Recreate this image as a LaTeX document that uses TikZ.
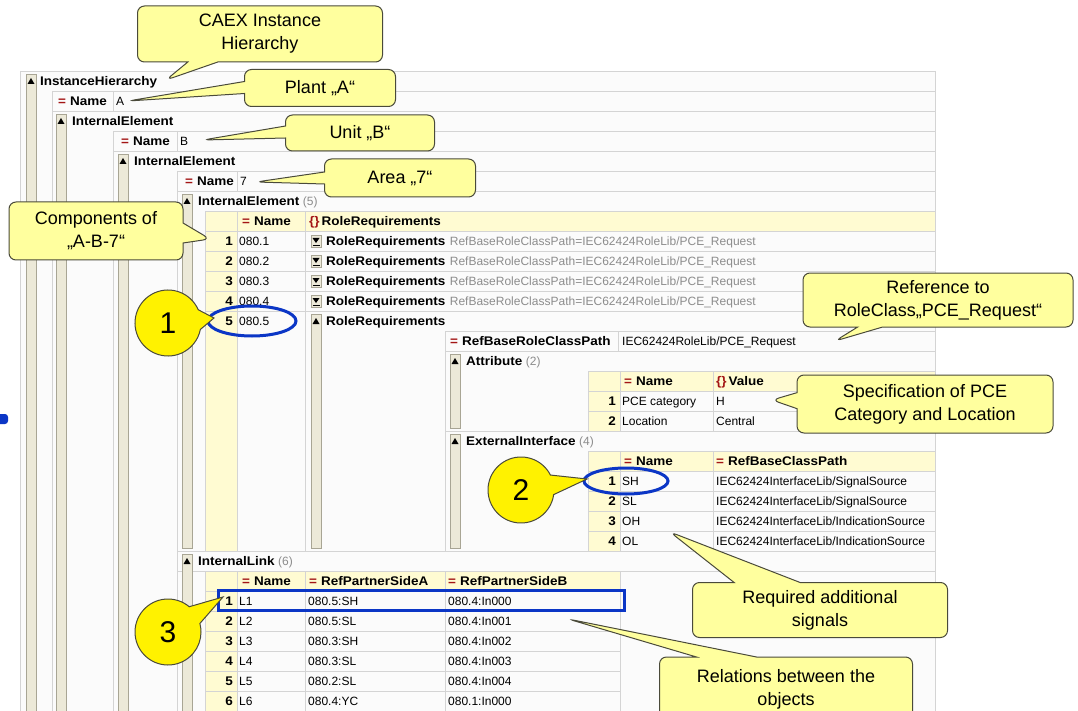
\documentclass[tikz,border=0pt]{standalone}
\usepackage{fontspec}
\setmainfont{Liberation Sans}
\newfontfamily\tblbold[FakeStretch=1.08]{Liberation Sans Bold}
\usepackage{tikz}
\usetikzlibrary{shapes.callouts,positioning}
\definecolor{notefill}{HTML}{FFFF9E}
\definecolor{noteline}{HTML}{4A4A3A}
\definecolor{cellyellow}{HTML}{FFFBD2}
\definecolor{gridgray}{HTML}{D4D4D4}
\definecolor{panefill}{HTML}{FBFBFB}
\definecolor{barfill}{HTML}{ECE9D8}
\definecolor{bargray}{HTML}{A8A594}
\definecolor{iconred}{HTML}{A31515}
\definecolor{hiblue}{HTML}{0B36C6}
\definecolor{dimtext}{HTML}{8C8C8C}
\newcommand{\eqicon}{\textcolor{iconred}{\tblbold =}\hspace{4pt}}
\newcommand{\braceicon}{\textcolor{iconred}{\tblbold\{\}}\hspace{2pt}}
% fold bar: x left, top, bottom
\newcommand{\foldbar}[3]{%
  \filldraw[fill=barfill, draw=bargray, line width=0.8pt] (#1,#2) rectangle (#1+10,#3);
  \fill (#1+1.5,#2+10) -- (#1+8.5,#2+10) -- (#1+5,#2+4) -- cycle;}
% collapsed button: row centre
\newcommand{\foldbtn}[1]{%
  \filldraw[fill=barfill, draw=bargray, line width=0.6pt] (311,#1-6) rectangle (321,#1+6);
  \fill (312.5,#1-3) -- (319.5,#1-3) -- (316,#1+2) -- cycle;
  \draw[line width=0.8pt] (312.5,#1+4) -- (319.5,#1+4);}

\begin{document}
\begin{tikzpicture}[x=1pt, y=-1pt,
    txt/.style={anchor=base west, inner sep=0pt, font=\fontsize{12}{14}\selectfont},
    key/.style={anchor=base west, inner sep=0pt, font=\fontsize{12.5}{14}\tblbold},
    idx/.style={anchor=base east, inner sep=0pt, font=\fontsize{12.5}{14}\tblbold},
    dim/.style={txt, text=dimtext},
    grid/.style={draw=gridgray, line width=0.8pt},
    hilite/.style={draw=hiblue, line width=3pt},
    note/.style={rectangle callout, draw=noteline, fill=notefill, line width=1pt,
      rounded corners=7pt, align=center, inner sep=2pt,
      font=\fontsize{18}{23}\selectfont},
    num/.style={ellipse callout, draw=noteline, fill=yellow, line width=1pt,
      minimum width=66pt, minimum height=66pt, inner sep=0pt,
      callout pointer arc=35, font=\fontsize{30}{32}\selectfont}]
  \useasboundingbox (0,0) rectangle (1078,711);
  \fill[white] (0,0) rectangle (1078,711);
  \fill[panefill] (20,71) rectangle (935,711);
  \fill[hiblue, rounded corners=3pt] (-4,414) rectangle (8,424);

  % yellow cells
  \fill[cellyellow] (205,211) rectangle (935,231);
  \fill[cellyellow] (205,231) rectangle (237,551);
  \fill[cellyellow] (588,371) rectangle (935,391);
  \fill[cellyellow] (588,391) rectangle (620,431);
  \fill[cellyellow] (588,451) rectangle (935,471);
  \fill[cellyellow] (588,471) rectangle (620,551);
  \fill[cellyellow] (205,571) rectangle (620,591);
  \fill[cellyellow] (205,591) rectangle (237,711);

  % grid
  \foreach \y/\xa in {71/20, 91/52, 111/52, 131/113, 151/113, 171/177, 191/177,
      211/205, 231/205, 251/205, 271/205, 291/205, 311/205, 331/445, 351/445,
      371/588, 391/588, 411/588, 431/445, 451/588, 471/588, 491/588, 511/588,
      531/588, 551/177, 571/177}
    \draw[grid] (\xa,\y) -- (935,\y);
  \foreach \y in {591,611,...,711}
    \draw[grid] (205,\y) -- (620,\y);
  \foreach \x/\ya/\yb in {20/71/711, 935/71/711, 52/91/711, 113/91/111, 113/131/711,
      177/131/151, 177/171/711, 237/171/191, 205/211/551, 237/211/551, 305/211/551,
      445/331/551, 618/331/351, 588/371/431, 620/371/431, 713/371/431,
      588/451/551, 620/451/551, 713/451/551, 205/571/711, 237/571/711,
      305/571/711, 445/571/711, 620/571/711}
    \draw[grid] (\x,\ya) -- (\x,\yb);

  % fold bars
  \foldbar{26}{74}{711}
  \foldbar{56}{114}{711}
  \foldbar{118}{154}{711}
  \foldbar{182}{194}{548}
  \foldbar{311}{314}{548}
  \foldbar{450}{354}{428}
  \foldbar{450}{434}{548}
  \foldbar{182}{554}{711}

  % hierarchy
  \node[key] (ih) at (40,85.5) {InstanceHierarchy};
  \node[key] (nameA) at (58,105.5) {\eqicon Name};
  \node[txt] (valA) at (116,105.5) {A};
  \node[key] (ieA) at (72,125.5) {InternalElement};
  \node[key] (nameB) at (121,145.5) {\eqicon Name};
  \node[txt] (valB) at (180,145.5) {B};
  \node[key] (ieB) at (134,165.5) {InternalElement};
  \node[key] (nameC) at (185,185.5) {\eqicon Name};
  \node[txt] (valC) at (240,185.5) {7};
  \node[key] (ieC) at (198,205.5) {InternalElement};
  \node[dim, right=3pt of ieC.base east, anchor=base west] (ieCount) {(5)};

  % components table
  \node[key] (compName) at (242,225.5) {\eqicon Name};
  \node[key] (compRole) at (309,225.5) {\braceicon RoleRequirements};
  \foreach \i in {1,...,4} {
    \node[idx] (compIdx\i) at (233,225.5+20*\i) {\i};
    \node[txt] (comp\i) at (239,225.5+20*\i) {080.\i};
    \foldbtn{221+20*\i}
    \node[key] (role\i) at (326,225.5+20*\i) {RoleRequirements};
    \node[dim, right=4pt of role\i.base east, anchor=base west] (path\i)
      {RefBaseRoleClassPath=IEC62424RoleLib/PCE\_Request};
  }
  \node[idx] (compIdx5) at (233,325.5) {5};
  \node[txt] (comp5) at (239,325.5) {080.5};
  \node[key] (role5) at (326,325.5) {RoleRequirements};
  \node[key] (refKey) at (450,345.5) {\eqicon RefBaseRoleClassPath};
  \node[txt] (refVal) at (622,345.5) {IEC62424RoleLib/PCE\_Request};

  % attributes
  \node[key] (attr) at (466,365.5) {Attribute};
  \node[dim, right=3pt of attr.base east, anchor=base west] (attrCount) {(2)};
  \node[key] (attrName) at (624,385.5) {\eqicon Name};
  \node[key] (attrValue) at (716,385.5) {\braceicon Value};
  \node[idx] (attrIdx1) at (616,405.5) {1};
  \node[txt] (attrN1) at (622,405.5) {PCE category};
  \node[txt] (attrV1) at (716,405.5) {H};
  \node[idx] (attrIdx2) at (616,425.5) {2};
  \node[txt] (attrN2) at (622,425.5) {Location};
  \node[txt] (attrV2) at (716,425.5) {Central};

  % external interfaces
  \node[key] (ext) at (466,445.5) {ExternalInterface};
  \node[dim, right=3pt of ext.base east, anchor=base west] (extCount) {(4)};
  \node[key] (extName) at (624,465.5) {\eqicon Name};
  \node[key] (extPath) at (716,465.5) {\eqicon RefBaseClassPath};
  \foreach \i/\nm/\pth in {1/SH/{IEC62424InterfaceLib/SignalSource},
      2/SL/{IEC62424InterfaceLib/SignalSource},
      3/OH/{IEC62424InterfaceLib/IndicationSource},
      4/OL/{IEC62424InterfaceLib/IndicationSource}} {
    \node[idx] (extIdx\i) at (616,465.5+20*\i) {\i};
    \node[txt] (extN\i) at (622,465.5+20*\i) {\nm};
    \node[txt] (extP\i) at (716,465.5+20*\i) {\pth};
  }

  % internal links
  \node[key] (link) at (198,565.5) {InternalLink};
  \node[dim, right=3pt of link.base east, anchor=base west] (linkCount) {(6)};
  \node[key] (linkName) at (242,585.5) {\eqicon Name};
  \node[key] (linkA) at (309,585.5) {\eqicon RefPartnerSideA};
  \node[key] (linkB) at (448,585.5) {\eqicon RefPartnerSideB};
  \foreach \i/\sa/\sb in {1/080.5:SH/080.4:In000, 2/080.5:SL/080.4:In001,
      3/080.3:SH/080.4:In002, 4/080.3:SL/080.4:In003,
      5/080.2:SL/080.4:In004, 6/080.4:YC/080.1:In000} {
    \node[idx] (linkIdx\i) at (233,585.5+20*\i) {\i};
    \node[txt] (linkN\i) at (239,585.5+20*\i) {L\i};
    \node[txt] (linkA\i) at (308,585.5+20*\i) {\sa};
    \node[txt] (linkB\i) at (448,585.5+20*\i) {\sb};
  }

  % highlights
  \draw[hilite] (252,321) ellipse [x radius=44pt, y radius=15pt];
  \draw[hilite] (626,481) ellipse [x radius=42pt, y radius=13pt];
  \draw[hilite] (218,590) rectangle (624,610);

  % callouts
  \coordinate (ihTip) at (166,80);
  \coordinate (plantTip) at (128,101);
  \coordinate (unitTip) at (203,140);
  \coordinate (areaTip) at (256,182);
  \coordinate (compTip) at (210,239);
  \coordinate (oneTip) at (214,318);
  \coordinate (twoTip) at (587,479);
  \coordinate (threeTip) at (223,597);
  \coordinate (refTip) at (835,341);
  \coordinate (specTip) at (772,400);
  \coordinate (reqTip) at (670,532);
  \coordinate (relTip) at (568,619);
  \node[note, minimum width=245pt, minimum height=56pt, callout pointer width=30pt,
    callout absolute pointer={(ihTip)}] (ihNote) at (260,34) {CAEX Instance\\Hierarchy};
  \node[note, minimum width=151pt, minimum height=37pt, callout pointer width=12pt,
    callout absolute pointer={(plantTip)}] (plantNote) at (320,88) {Plant „A“};
  \node[note, minimum width=149pt, minimum height=36pt, callout pointer width=12pt,
    callout absolute pointer={(unitTip)}] (unitNote) at (360,133) {Unit „B“};
  \node[note, minimum width=151pt, minimum height=38pt, callout pointer width=12pt,
    callout absolute pointer={(areaTip)}] (areaNote) at (400,178) {Area „7“};
  \node[note, minimum width=174pt, minimum height=58pt, callout pointer width=20pt,
    callout absolute pointer={(compTip)}] (compNote) at (96,231) {Components of\\„A-B-7“};
  \node[note, minimum width=270pt, minimum height=54pt, callout pointer width=25pt,
    callout absolute pointer={(refTip)}] (refNote) at (938,300) {Reference to\\RoleClass„PCE\_Request“};
  \node[note, minimum width=256pt, minimum height=58pt, callout pointer width=16pt,
    callout absolute pointer={(specTip)}] (specNote) at (925,404) {Specification of PCE\\Category and Location};
  \node[note, minimum width=255pt, minimum height=55pt, callout pointer width=66pt,
    callout absolute pointer={(reqTip)}] (reqNote) at (820,610) {Required additional\\signals};
  \node[note, minimum width=253pt, minimum height=64pt, callout pointer width=60pt,
    callout absolute pointer={(relTip)}] (relNote) at (786,689) {Relations between the\\objects};
  \node[num, callout absolute pointer={(oneTip)}] (one) at (168,323) {1};
  \node[num, callout absolute pointer={(twoTip)}] (two) at (521,490) {2};
  \node[num, callout absolute pointer={(threeTip)}] (three) at (168,632) {3};
\end{tikzpicture}
\end{document}
